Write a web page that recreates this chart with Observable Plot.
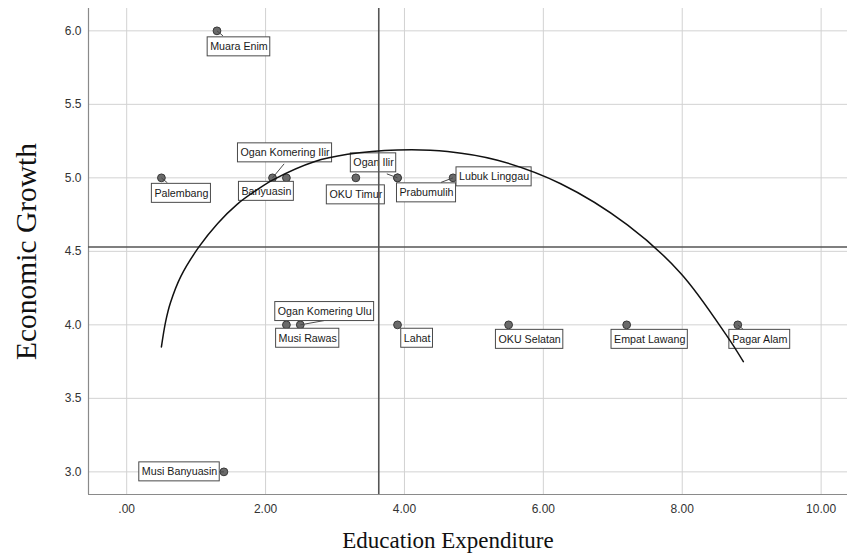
<!DOCTYPE html>
<html>
<head>
<meta charset="utf-8">
<script src="https://cdn.jsdelivr.net/npm/d3@7"></script>
<script src="https://cdn.jsdelivr.net/npm/@observablehq/plot@0.6"></script>
<style>
  html, body { margin: 0; padding: 0; background: #fff; }
</style>
</head>
<body>
<div id="chart"></div>
<script>
// Regencies / cities and their values
const regions = [
  "Muara Enim", "Palembang", "Ogan Komering Ilir", "Banyuasin", "OKU Timur",
  "Ogan Ilir", "Prabumulih", "Lubuk Linggau", "Ogan Komering Ulu", "Musi Rawas",
  "Lahat", "OKU Selatan", "Empat Lawang", "Pagar Alam", "Musi Banyuasin"
];
const educationExpenditure = [1.3, 0.5, 2.1, 2.3, 3.3, 3.9, 3.9, 4.7, 2.5, 2.3, 3.9, 5.5, 7.2, 8.8, 1.4];
const economicGrowth       = [6.0, 5.0, 5.0, 5.0, 5.0, 5.0, 5.0, 5.0, 4.0, 4.0, 4.0, 4.0, 4.0, 4.0, 3.0];

// Fit line, sampled along the curve
const fitX = [0.50, 0.56, 0.63, 0.78, 1.04, 1.31, 1.59, 1.88, 2.12, 2.70, 3.18, 3.90, 4.62, 5.34, 6.25, 7.21, 7.98, 8.65, 8.88];
const fitY = [3.85, 4.02, 4.15, 4.33, 4.53, 4.69, 4.82, 4.92, 4.99, 5.11, 5.16, 5.19, 5.18, 5.12, 4.96, 4.68, 4.35, 3.92, 3.75];

// Reference lines at the means
const meanExpenditure = [3.63];
const meanGrowth = [4.53];

// Ticks
const xTicks = [0, 2, 4, 6, 8, 10];
const yTicks = [3.0, 3.5, 4.0, 4.5, 5.0, 5.5, 6.0];

// Scale extents
const xDomain = [-0.55, 10.38];
const yDomain = [2.846, 6.152];

const points = regions.map((name, i) => ({name, x: educationExpenditure[i], y: economicGrowth[i]}));
const fit = fitX.map((x, i) => ({x, y: fitY[i]}));

// Label placement: box centre offset and leader end offset, in pixels from the point
const labelLayout = {
  "Muara Enim":         {box: [22, 16],    leader: [6, 5]},
  "Palembang":          {box: [20, 15.5],  leader: [6, 5]},
  "Ogan Komering Ilir": {box: [12.5, -25], leader: [11.6, -14]},
  "Banyuasin":          {box: [-20, 13.5], leader: null},
  "OKU Timur":          {box: [0, 17],     leader: null},
  "Ogan Ilir":          {box: [-24, -15],  leader: [-10.7, -4]},
  "Prabumulih":         {box: [29, 15],    leader: null},
  "Lubuk Linggau":      {box: [41, -1],    leader: [-12, 4.5]},
  "Ogan Komering Ulu":  {box: [24.4, -13.3], leader: [24, -4.3]},
  "Musi Rawas":         {box: [21.3, 13.4], leader: null},
  "Lahat":              {box: [19.6, 13.4], leader: null},
  "OKU Selatan":        {box: [21, 14.5],  leader: null},
  "Empat Lawang":       {box: [23, 14.5],  leader: null},
  "Pagar Alam":         {box: [22, 14.5],  leader: [6, 5]},
  "Musi Banyuasin":     {box: [-44.4, 0],  leader: [-5, 0]}
};

const sansFont = "'Liberation Sans', Arial, Helvetica, sans-serif";
const serifFont = "'Liberation Serif', 'Times New Roman', Times, serif";
const labelSize = 10.7;

const measureCtx = document.createElement("canvas").getContext("2d");
measureCtx.font = `${labelSize}px 'Liberation Sans', Arial, sans-serif`;
const textWidth = s => measureCtx.measureText(s).width;

// Label boxes, leaders and texts, one small set of marks per point
const labelMarks = points.flatMap(d => {
  const {box: [cx, cy], leader} = labelLayout[d.name];
  const w = textWidth(d.name) + 5, h = 19;
  const marks = [];
  if (leader) {
    const [lx, ly] = leader;
    marks.push(Plot.dot([d], {
      x: "x", y: "y",
      symbol: {draw(context) { context.moveTo(0, 0); context.lineTo(lx, ly); }},
      fill: "none", stroke: "#4a4a4a", strokeWidth: 1
    }));
  }
  marks.push(Plot.rect([d], {
    x1: "x", x2: "x", y1: "y", y2: "y",
    insetLeft: cx - w / 2, insetRight: -(cx + w / 2),
    insetTop: cy - h / 2, insetBottom: -(cy + h / 2),
    fill: "white", stroke: "#4a4a4a", strokeWidth: 1
  }));
  marks.push(Plot.text([d], {
    x: "x", y: "y", text: "name", dx: cx, dy: cy,
    fontSize: labelSize, fontFamily: sansFont, fill: "#1a1a1a"
  }));
  return marks;
});

const plot = Plot.plot({
  width: 847,
  height: 556,
  marginLeft: 88,
  marginRight: 0,
  marginTop: 8,
  marginBottom: 62,
  style: {fontFamily: sansFont, fontSize: "12px", color: "#333", background: "white"},
  x: {
    domain: xDomain, ticks: xTicks, tickSize: 0, tickPadding: 10, label: null,
    tickFormat: d => d3.format(".2f")(d).replace(/^0\./, ".")
  },
  y: {
    domain: yDomain, ticks: yTicks, tickSize: 0, tickPadding: 7, label: null,
    tickFormat: d3.format(".1f")
  },
  marks: [
    // grid
    Plot.ruleX(xTicks, {stroke: "#d2d2d2", strokeWidth: 1}),
    Plot.ruleY(yTicks, {stroke: "#d2d2d2", strokeWidth: 1}),
    // axis lines
    Plot.ruleX([xDomain[0]], {stroke: "#8a8a8a", strokeWidth: 1.2}),
    Plot.ruleY([yDomain[0]], {stroke: "#8a8a8a", strokeWidth: 1.2}),
    // points
    Plot.dot(points, {x: "x", y: "y", r: 3.9, fill: "#6a6a6a", stroke: "#383838", strokeWidth: 1}),
    ...labelMarks,
    // mean reference lines
    Plot.ruleX(meanExpenditure, {stroke: "#555", strokeWidth: 1.6}),
    Plot.ruleY(meanGrowth, {stroke: "#555", strokeWidth: 1.6}),
    // fit curve
    Plot.line(fit, {x: "x", y: "y", curve: "catmull-rom", stroke: "#111", strokeWidth: 1.5}),
    // axis titles
    Plot.text(["Education Expenditure"], {
      text: d => d, frameAnchor: "bottom", dy: 53, dx: -20,
      fontFamily: serifFont, fontSize: 23, fill: "#111"
    }),
    Plot.text(["Economic Growth"], {
      text: d => d, frameAnchor: "left", textAnchor: "middle", lineAnchor: "middle",
      dx: -62, rotate: -90,
      fontFamily: serifFont, fontSize: 29.5, fill: "#111"
    })
  ]
});

document.getElementById("chart").append(plot);
</script>
</body>
</html>
